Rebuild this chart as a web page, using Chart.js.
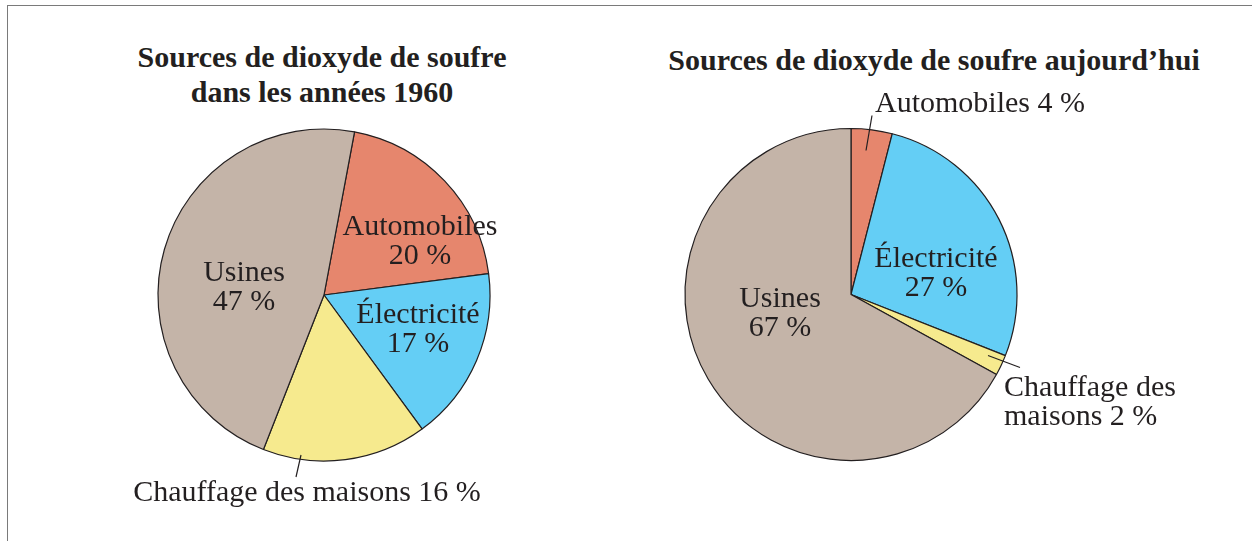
<!DOCTYPE html>
<html lang="fr">
<head>
<meta charset="utf-8">
<script src="https://cdn.jsdelivr.net/npm/chart.js@4.4.0/dist/chart.umd.min.js"></script>
<style>
body { margin: 0; background: #fff; }
#frame { position: relative; width: 1252px; height: 541px; overflow: hidden; }
.border { position: absolute; left: 7px; top: 5px; right: -4px; bottom: -4px;
  border-top: 1.5px solid #7a7a7a; border-left: 1.5px solid #7a7a7a; }
.title { position: absolute; font: bold 30px "Liberation Serif", "Times New Roman", serif; color: #231f20;
  text-align: center; line-height: 35px; white-space: nowrap; transform: translateX(-50%); }
canvas { position: absolute; top: 0; }
</style>
</head>
<body>
<div id="frame">
  <div class="border"></div>
  <div class="title" style="left:322px; top:39px;">Sources de dioxyde de soufre<br>dans les années 1960</div>
  <div class="title" style="left:934px; top:42px;">Sources de dioxyde de soufre aujourd’hui</div>
  <canvas id="pie1960" width="626" height="541" style="left:0;"></canvas>
  <canvas id="pieToday" width="626" height="541" style="left:626px;"></canvas>
</div>
<script>
// Data
const categories = ['Automobiles', 'Électricité', 'Chauffage des maisons', 'Usines'];
const values1960 = [20, 17, 16, 47];
const valuesToday = [4, 27, 2, 67];
const sliceColors = ['#e6866d', '#64cef5', '#f6ea8e', '#c4b4a8'];

const INK = '#231f20';
const LABEL_FONT = '30px "Liberation Serif"';

// Label placement relative to the pie centre (one entry per category)
const layout1960 = [
    { lines: (n, v) => [n, v + ' %'], dx: 96, dy: -53, align: 'center' },
    { lines: (n, v) => [n, v + ' %'], dx: 94, dy: 35, align: 'center' },
    { lines: (n, v) => [n + ' ' + v + ' %'], dx: -17, dy: 198, align: 'center', leader: [-23, 160, -28, 182] },
    { lines: (n, v) => [n, v + ' %'], dx: -80, dy: -7, align: 'center' }
];
const layoutToday = [
    { lines: (n, v) => [n + ' ' + v + ' %'], dx: 24, dy: -190, align: 'left', leader: [15, -144, 21, -179] },
    { lines: (n, v) => [n, v + ' %'], dx: 85, dy: -21, align: 'center' },
    { lines: (n, v) => ['Chauffage des', 'maisons ' + v + ' %'], dx: 153, dy: 108, align: 'left', leader: [137, 61, 169, 73] },
    { lines: (n, v) => [n, v + ' %'], dx: -71, dy: 19, align: 'center' }
];

const sliceLabels = {
    id: 'sliceLabels',
    afterDraw(chart, args, opts) {
        const ctx = chart.ctx;
        const arc = chart.getDatasetMeta(0).data[0];
        const cx = arc.x, cy = arc.y;
        const values = chart.data.datasets[0].data;
        ctx.save();
        ctx.fillStyle = INK;
        ctx.strokeStyle = INK;
        ctx.lineWidth = 1.2;
        ctx.font = LABEL_FONT;
        ctx.textBaseline = 'middle';
        opts.layout.forEach((l, i) => {
            const lines = l.lines(chart.data.labels[i], values[i]);
            const lh = 29;
            ctx.textAlign = l.align;
            lines.forEach((t, k) => {
                const y = cy + l.dy + (k - (lines.length - 1) / 2) * lh;
                ctx.fillText(t, cx + l.dx, y);
            });
            if (l.leader) {
                ctx.beginPath();
                ctx.moveTo(cx + l.leader[0], cy + l.leader[1]);
                ctx.lineTo(cx + l.leader[2], cy + l.leader[3]);
                ctx.stroke();
            }
        });
        ctx.restore();
    }
};

function makePie(id, values, rotation, padding, layout) {
    return new Chart(document.getElementById(id), {
        type: 'pie',
        data: {
            labels: categories,
            datasets: [{
                data: values,
                backgroundColor: sliceColors,
                borderColor: INK,
                borderWidth: 1.2
            }]
        },
        options: {
            responsive: false,
            animation: false,
            rotation: rotation,
            radius: 166,
            layout: { padding: padding },
            plugins: {
                legend: { display: false },
                tooltip: { enabled: false },
                sliceLabels: { layout: layout }
            }
        },
        plugins: [sliceLabels]
    });
}

document.fonts.load(LABEL_FONT).then(() => {
    makePie('pie1960', values1960, 10.6, { left: 100, right: 78, top: 99, bottom: 50 }, layout1960);
    makePie('pieToday', valuesToday, 0, { left: 20, right: 196, top: 98, bottom: 50 }, layoutToday);
});
</script>
</body>
</html>
